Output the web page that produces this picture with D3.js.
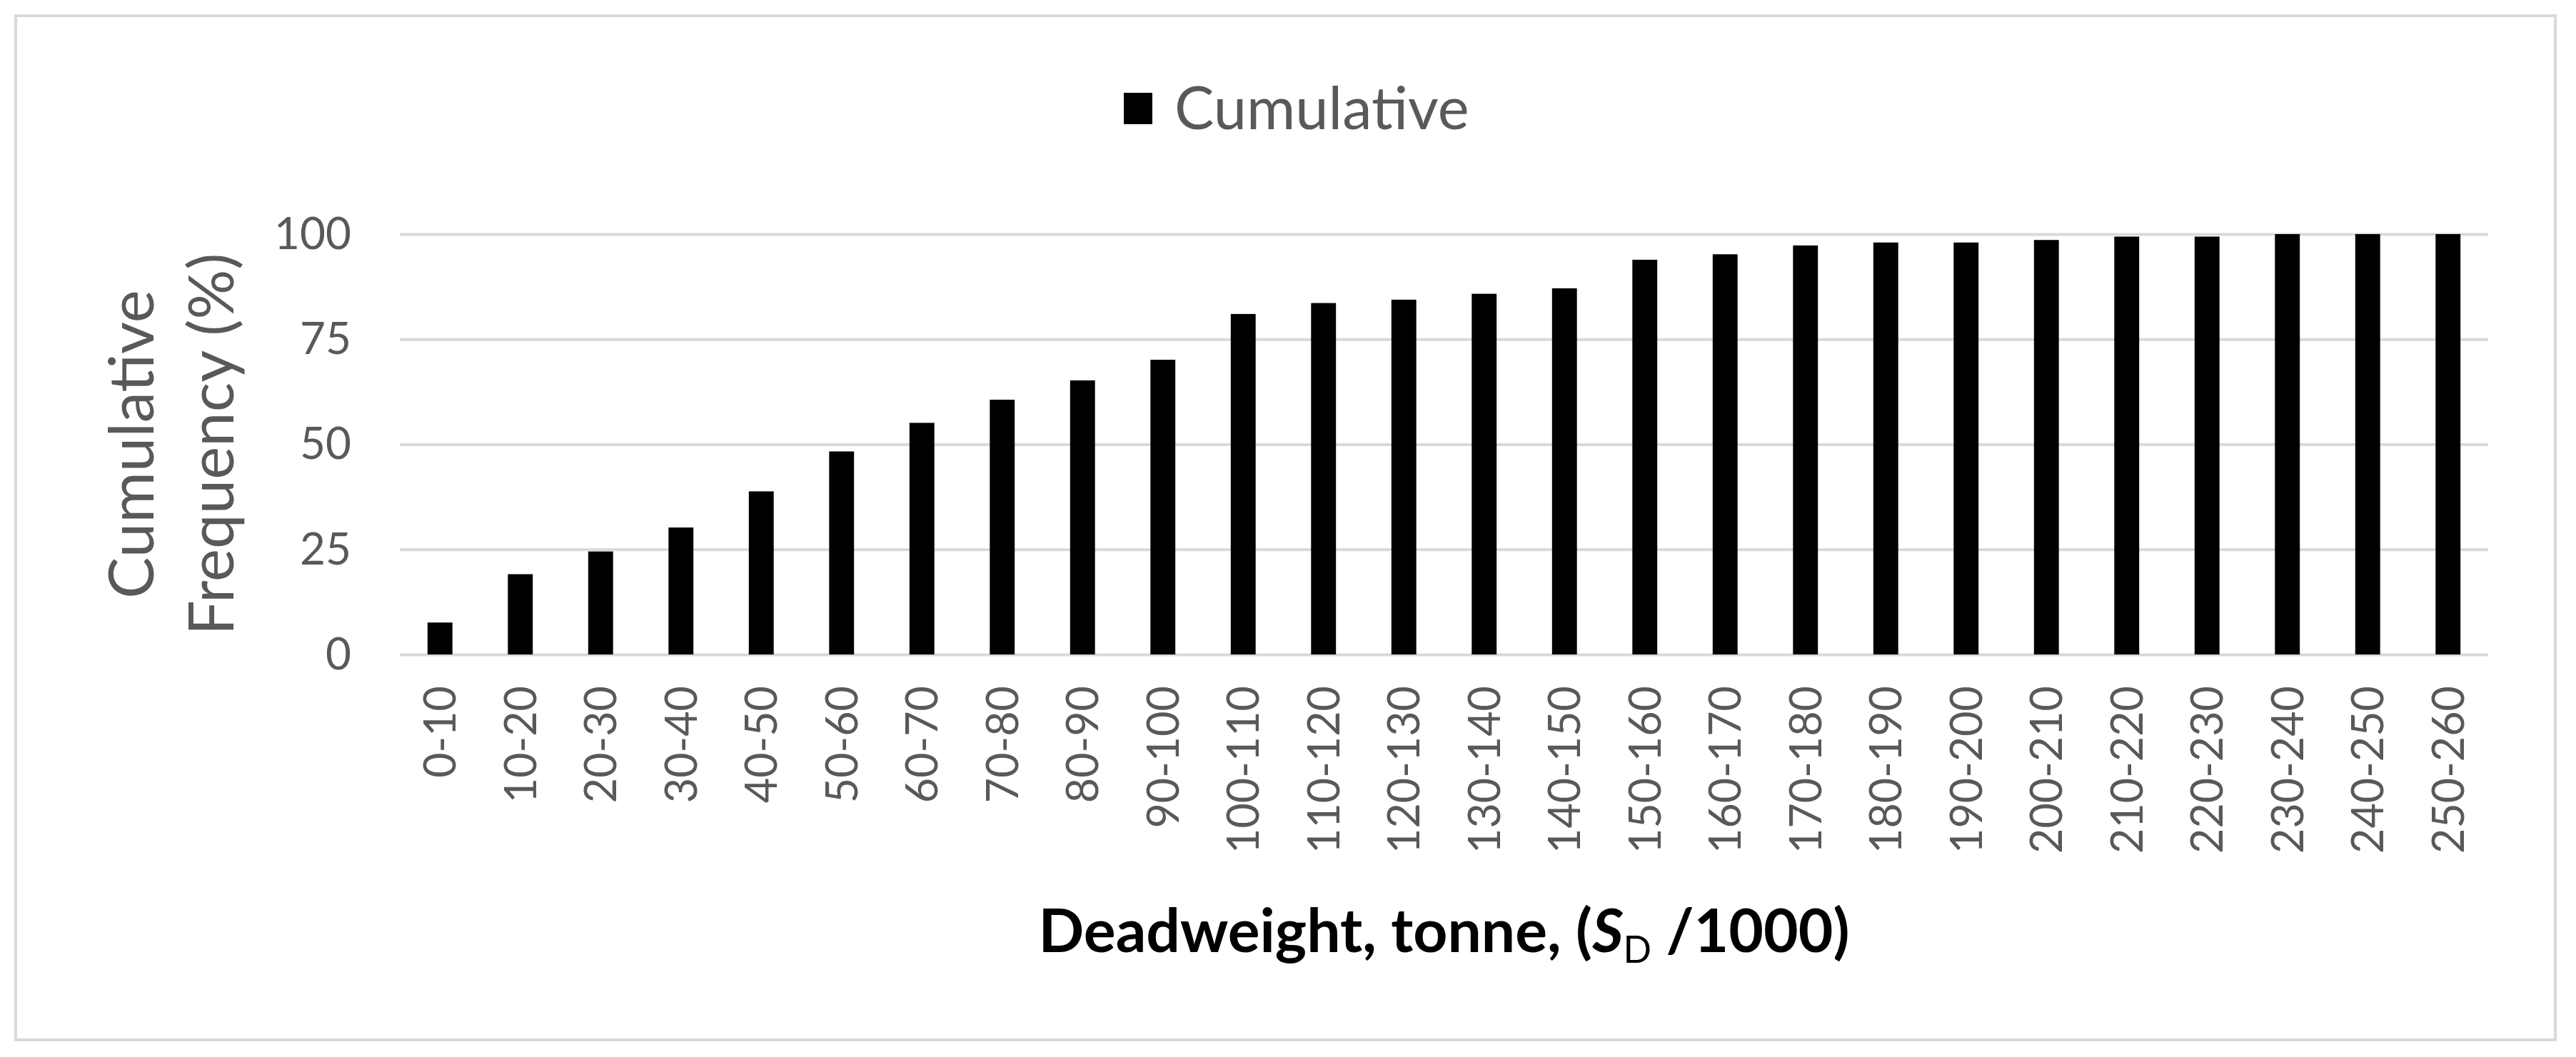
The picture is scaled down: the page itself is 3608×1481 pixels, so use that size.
<!DOCTYPE html>
<html>
<head>
<meta charset="utf-8">
<script src="https://cdn.jsdelivr.net/npm/d3@7"></script>
<style>
  html, body { margin: 0; padding: 0; background: #ffffff; }
  svg { display: block; }
</style>
</head>
<body>
<svg id="chart" width="3608" height="1481"></svg>
<script>
const categories = ["0-10","10-20","20-30","30-40","40-50","50-60","60-70","70-80","80-90","90-100",
  "100-110","110-120","120-130","130-140","140-150","150-160","160-170","170-180","180-190","190-200",
  "200-210","210-220","220-230","230-240","240-250","250-260"];
const cumulative = [7.6, 19.1, 24.5, 30.2, 38.8, 48.3, 55.1, 60.6, 65.2, 70.1,
  81.0, 83.6, 84.4, 85.8, 87.1, 93.9, 95.2, 97.3, 98.0, 98.0,
  98.6, 99.4, 99.4, 100, 100, 100];
const yTicks = [0, 25, 50, 75, 100];
const seriesName = "Cumulative";
const yTitleLines = ["Cumulative", "Frequency (%)"];

const svg = d3.select("#chart");
const W = 3608, H = 1481;
const plot = { left: 560, right: 3485, top: 328, bottom: 917 };
const font = "Lato, 'Open Sans', sans-serif";
const grey = "#595959";

// outer frame
svg.append("rect").attr("x", 0).attr("y", 0).attr("width", W).attr("height", H).attr("fill", "#fff");
svg.append("rect").attr("x", 22).attr("y", 22).attr("width", 3557).attr("height", 1435)
  .attr("fill", "#fff").attr("stroke", "#d9d9d9").attr("stroke-width", 4);

const x = d3.scaleBand().domain(categories).range([plot.left, plot.right])
  .paddingInner(0.69).paddingOuter(0.345);
const y = d3.scaleLinear().domain([0, 100]).range([plot.bottom, plot.top]);

// gridlines + y tick labels
const yAxis = d3.axisLeft(y).tickValues(yTicks).tickSize(-(plot.right - plot.left)).tickPadding(68);
const gy = svg.append("g").attr("transform", `translate(${plot.left},0)`).call(yAxis);
gy.select(".domain").remove();
gy.selectAll(".tick line").attr("stroke", "#d9d9d9").attr("stroke-width", 4);
gy.selectAll(".tick text").attr("fill", grey).style("font-family", font).style("font-size", "62px")
  .attr("dy", "0.33em");

// bars
svg.append("g").selectAll("rect").data(categories).join("rect")
  .attr("x", d => x(d))
  .attr("width", x.bandwidth())
  .attr("y", (d, i) => y(cumulative[i]))
  .attr("height", (d, i) => y(0) - y(cumulative[i]))
  .attr("fill", "#000");

// x axis labels
const xAxis = d3.axisBottom(x).tickSize(0);
const gx = svg.append("g").attr("transform", `translate(0,${plot.bottom})`).call(xAxis);
gx.select(".domain").remove();
gx.selectAll(".tick text")
  .attr("transform", "rotate(-90)")
  .attr("x", -44).attr("y", 0).attr("dy", "0.36em")
  .style("text-anchor", "end")
  .attr("fill", grey).style("font-family", font).style("font-size", "61px");

// legend
const lg = svg.append("g");
lg.append("rect").attr("x", 1574).attr("y", 130).attr("width", 40).attr("height", 44).attr("fill", "#000");
lg.append("text").attr("x", 1645).attr("y", 152).attr("dy", "0.35em")
  .attr("fill", grey).style("font-family", font).style("font-size", "83px").text(seriesName);

// y title
const cy = (plot.top + plot.bottom) / 2;
const yt = svg.append("text").attr("transform", `translate(0,${cy}) rotate(-90)`)
  .attr("text-anchor", "middle").attr("fill", grey)
  .style("font-family", font).style("font-size", "87px");
yt.append("tspan").attr("x", 0).attr("y", 215).text(yTitleLines[0]);
yt.append("tspan").attr("x", 0).attr("y", 327).text(yTitleLines[1]);

// x title
const xt = svg.append("text").attr("x", (plot.left + plot.right) / 2).attr("y", 1334)
  .attr("text-anchor", "middle").attr("fill", "#000")
  .style("font-family", font).style("font-size", "84px").style("font-weight", "bold");
xt.append("tspan").text("Deadweight, tonne, (");
xt.append("tspan").style("font-style", "italic").text("S");
xt.append("tspan").attr("dy", 15).style("font-size", "52px").style("font-weight", "normal").text("D");
xt.append("tspan").attr("dy", -15).text(" /1000)");
</script>
</body>
</html>
